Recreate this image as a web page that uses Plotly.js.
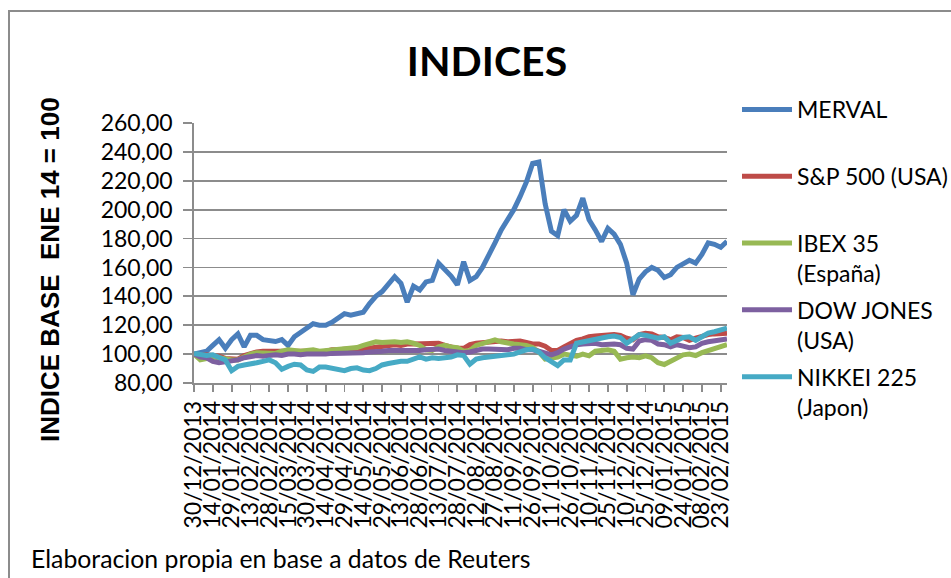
<!DOCTYPE html>
<html>
<head>
<meta charset="utf-8">
<script src="https://cdn.plot.ly/plotly-3.0.1.min.js"></script>
<style>
  html, body { margin: 0; padding: 0; background: #ffffff; }
  #grafico { width: 951px; height: 578px; }
</style>
</head>
<body>
<div id="grafico"></div>
<script>
/* Datos: indices base 30/12/2013 = 100, un punto cada 5 dias */
var fechas = [
    '2013-12-30', '2014-01-04', '2014-01-09', '2014-01-14', '2014-01-19', '2014-01-24', '2014-01-29', '2014-02-03', '2014-02-08', '2014-02-13',
    '2014-02-18', '2014-02-23', '2014-02-28', '2014-03-05', '2014-03-10', '2014-03-15', '2014-03-20', '2014-03-25', '2014-03-30', '2014-04-04',
    '2014-04-09', '2014-04-14', '2014-04-19', '2014-04-24', '2014-04-29', '2014-05-04', '2014-05-09', '2014-05-14', '2014-05-19', '2014-05-24',
    '2014-05-29', '2014-06-03', '2014-06-08', '2014-06-13', '2014-06-18', '2014-06-23', '2014-06-28', '2014-07-03', '2014-07-08', '2014-07-13',
    '2014-07-18', '2014-07-23', '2014-07-28', '2014-08-02', '2014-08-07', '2014-08-12', '2014-08-17', '2014-08-22', '2014-08-27', '2014-09-01',
    '2014-09-06', '2014-09-11', '2014-09-16', '2014-09-21', '2014-09-26', '2014-10-01', '2014-10-06', '2014-10-11', '2014-10-16', '2014-10-21',
    '2014-10-26', '2014-10-31', '2014-11-05', '2014-11-10', '2014-11-15', '2014-11-20', '2014-11-25', '2014-11-30', '2014-12-05', '2014-12-10',
    '2014-12-15', '2014-12-20', '2014-12-25', '2014-12-30', '2015-01-04', '2015-01-09', '2015-01-14', '2015-01-19', '2015-01-24', '2015-01-29',
    '2015-02-03', '2015-02-08', '2015-02-13', '2015-02-18', '2015-02-23', '2015-02-28'
];

var merval = [
    100, 101, 102, 106, 110, 104, 110, 114, 105, 113,
    113, 110, 109, 108.7, 110, 106, 112, 115, 117, 121,
    120, 120, 122, 125, 128, 127, 128, 129, 135, 140,
    143.3, 148, 153.6, 149, 136, 147, 144.4, 150, 151, 163,
    159, 154, 148, 164, 151, 153.6, 160, 168, 177, 186,
    193, 200, 209, 219, 232, 233, 204, 185, 182, 200,
    192, 196, 208, 193, 186, 178, 187, 183, 176, 163,
    141, 152, 157, 160, 158, 153, 155, 160, 162.5, 165,
    163, 169, 177, 176, 174, 178
];

var sp500 = [
    100, 99, 99.5, 99, 98.5, 97, 97, 96.5, 99, 100.5,
    101.5, 102, 102, 102.5, 102, 102, 102.5, 102, 102.5, 102,
    101, 102, 103, 103, 103.5, 103.5, 104, 103.5, 104, 105,
    105.5, 106, 106.5, 106, 107, 107, 107, 107.5, 107.5, 107.5,
    106, 105, 104, 104, 106.5, 107.5, 108, 108.5, 109, 109,
    108.5, 109, 109, 108, 107, 107, 105.5, 102.5, 102.5, 105,
    107.5, 109.5, 110.5, 112, 112.5, 113, 113.5, 113.5, 113, 111,
    110, 113.5, 114.5, 114, 112, 111.5, 110, 112, 111.5, 109.5,
    111, 112.5, 113.5, 114, 114.5, 114.5
];

var ibex = [
    100, 96, 97, 98, 97.5, 96.5, 96, 96, 98, 100,
    101, 101, 101, 100.5, 102, 103, 102.5, 102, 102.5, 103,
    102, 102.5, 103, 103.5, 103.5, 104, 104.5, 106, 107, 108.5,
    108, 108.5, 108.5, 108, 108.5, 107.5, 106, 103, 102.5, 105,
    106, 105, 104.5, 102, 102.5, 106, 107.5, 109, 109.8, 108.5,
    107.5, 107, 106.5, 106, 104.5, 101.5, 96.5, 97, 98, 100,
    99, 98.5, 100, 98.8, 102, 102.5, 103, 102, 96.5, 97.5,
    98, 97.5, 98.8, 97.5, 94, 92.8, 95, 96.5, 99.5, 100,
    99, 101, 102.5, 104, 105, 106.5
];

var dowJones = [
    100, 98, 97.5, 95, 94, 94.5, 95.5, 96, 97.5, 98,
    99, 98.5, 99, 99.5, 99, 100, 100, 99.5, 100, 100,
    99.5, 100, 100.5, 100.5, 100.5, 101, 100.5, 101, 101.5, 101.5,
    102, 102.5, 102.5, 102, 102.5, 102.5, 102.5, 103, 103.5, 103.5,
    102.5, 102, 101, 101, 101.5, 102.5, 103.5, 103.5, 103.5, 103.5,
    103, 104, 104, 103, 103, 102, 101, 99.5, 101, 103.5,
    105, 106.5, 107, 107, 107.5, 106.5, 107, 107, 106.5, 104,
    103.5, 109, 110, 109.5, 107, 106.5, 105, 106.5, 105.5, 104.5,
    105, 107.5, 108.5, 109, 110, 110.5
];

var nikkei = [
    100.5, 100, 99, 99.5, 98, 96, 88.5, 91.5, 92.5, 93,
    94, 95, 96, 94, 89.5, 91.5, 93, 92.5, 89, 88,
    91, 91, 90, 89.5, 88.5, 90, 90.5, 89, 88.5, 90,
    92.5, 93.5, 94.5, 95, 95, 96.5, 98, 96.5, 97.5, 97,
    97.5, 98, 99.5, 99, 93, 96.5, 97.5, 98, 98.5, 98.5,
    99.5, 100, 101.5, 103, 103.5, 101.5, 97.5, 95, 92, 96,
    96, 107.5, 108.5, 109.5, 110.5, 111, 112, 112.5, 111.5, 107.5,
    111, 113.5, 113, 112, 111, 112, 107.5, 109.5, 111.5, 112,
    109.5, 112, 114.5, 115.5, 117, 118
];

var etiquetasFechas = [
    '30/12/2013', '14/01/2014', '29/01/2014', '13/02/2014', '28/02/2014', '15/03/2014', '30/03/2014', '14/04/2014',
    '29/04/2014', '14/05/2014', '29/05/2014', '13/06/2014', '28/06/2014', '13/07/2014', '28/07/2014', '12/08/2014',
    '27/08/2014', '11/09/2014', '26/09/2014', '11/10/2014', '26/10/2014', '10/11/2014', '25/11/2014', '10/12/2014',
    '25/12/2014', '09/01/2015', '24/01/2015', '08/02/2015', '23/02/2015'
];

var nombres = ['MERVAL<br>\u00a0', 'S&amp;P 500 (USA)<br>\u00a0', 'IBEX 35<br>(España)', 'DOW JONES<br>(USA)', 'NIKKEI 225<br>(Japon)'];
var colores = ['#4a7ebb', '#be4b48', '#98b954', '#7d60a0', '#46aac5'];

/* dd/mm/yyyy -> yyyy-mm-dd para el eje de fechas */
function aIso(s) {
    var p = s.split('/');
    return p[2] + '-' + p[1] + '-' + p[0];
}

function RenderIndices(ref) {
    var series = [merval, sp500, ibex, dowJones, nikkei];
    var data = [];

    for (var i = 0; i < series.length; i++)
    {
        data.push(
            {
                type: 'scatter',
                mode: 'lines',
                name: nombres[i],
                legendgroup: 'g' + i,
                x: fechas,
                y: series[i],
                line: { color: colores[i], width: 5 }
            }
        );
    }

    var fuente = 'Lato, sans-serif';
    var gris = '#8c8c8c';

    // area de trazado en pixeles
    var L = 194, R = 224, T = 123, B = 195;
    var W = 951 - L - R, H = 578 - T - B;

    var layout =
    {
        width: 951,
        height: 578,
        margin: { l: L, r: R, t: T, b: B, autoexpand: false },
        paper_bgcolor: '#ffffff',
        plot_bgcolor: '#ffffff',
        separators: ',.',
        font: { family: fuente, size: 23, color: '#000000' },
        title: {
            text: '<b>INDICES</b>',
            font: { family: fuente, size: 41, color: '#000000' },
            x: 487 / 951, xanchor: 'center',
            y: 1 - 62 / 578, yanchor: 'middle'
        },
        xaxis: {
            type: 'date',
            range: ['2013-12-30', '2015-02-28'],
            tickmode: 'array',
            tickvals: etiquetasFechas.map(aIso),
            ticktext: etiquetasFechas,
            tickangle: -90,
            ticks: 'outside',
            ticklen: 7,
            tickwidth: 1.8,
            tickcolor: gris,
            tickfont: { family: fuente, size: 23, color: '#000000' },
            showline: true,
            linecolor: gris,
            linewidth: 1.8,
            showgrid: false,
            zeroline: false
        },
        yaxis: {
            range: [80, 260],
            dtick: 20,
            tick0: 80,
            tickformat: '.2f',
            ticks: 'outside',
            ticklen: 9,
            tickwidth: 1.8,
            tickcolor: gris,
            ticklabelstandoff: 6,
            tickfont: { family: fuente, size: 23, color: '#000000' },
            showline: true,
            linecolor: gris,
            linewidth: 1.8,
            showgrid: true,
            gridcolor: gris,
            gridwidth: 1.8,
            zeroline: false
        },
        showlegend: true,
        legend: {
            x: (737 - L) / W,
            xanchor: 'left',
            y: (578 - B - 88) / H,
            yanchor: 'top',
            traceorder: 'grouped',
            tracegroupgap: 4,
            valign: 'top',
            itemwidth: 50,
            maxheight: 480,
            bgcolor: 'rgba(0,0,0,0)',
            font: { family: fuente, size: 23, color: '#000000' }
        },
        shapes: [
            {
                type: 'rect', xref: 'paper', yref: 'paper',
                x0: (9 - L) / W, x1: (970 - L) / W,
                y0: (578 - B - 600) / H, y1: (578 - B - 11) / H,
                line: { color: gris, width: 2 },
                layer: 'below'
            }
        ],
        annotations: [
            {
                text: '<b>INDICE BASE \u00a0ENE 14 = 100</b>',
                xref: 'paper', yref: 'paper',
                x: (50 - L) / W, y: (578 - B - 270) / H,
                xanchor: 'center', yanchor: 'middle',
                textangle: -90,
                showarrow: false,
                font: { family: 'Liberation Sans, Arial, sans-serif', size: 26, color: '#000000' }
            },
            {
                text: 'Elaboracion propia en base a datos de Reuters',
                xref: 'paper', yref: 'paper',
                x: (32 - L) / W, y: (578 - B - 558) / H,
                xanchor: 'left', yanchor: 'middle',
                xshift: -3,
                showarrow: false,
                font: { family: fuente, size: 24.8, color: '#000000' }
            }
        ]
    };

    var config =
    {
        staticPlot: true,
        displayModeBar: false
    };

    Plotly.newPlot(ref, data, layout, config);
}

RenderIndices('grafico');
</script>
</body>
</html>
